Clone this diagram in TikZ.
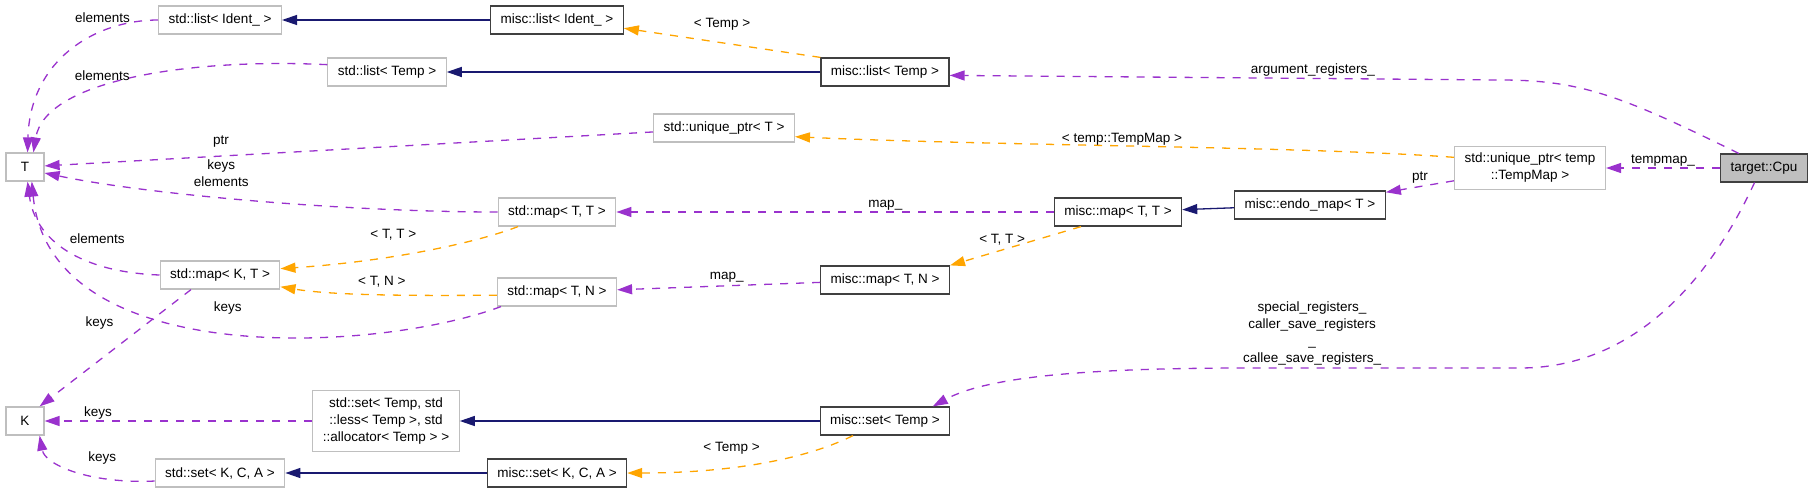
\documentclass[tikz,border=0pt]{standalone}
\usepackage{fontspec}
\setmainfont{Liberation Sans}
\usetikzlibrary{positioning}
\usetikzlibrary{arrows.meta}
\definecolor{edgeuse}{HTML}{9A32CD}
\definecolor{edgetpl}{HTML}{FFA500}
\definecolor{edgeinh}{HTML}{191970}
\definecolor{boxgray}{HTML}{BFBFBF}
\definecolor{boxdark}{HTML}{404040}
\tikzset{ext node/.style={rectangle,draw=boxgray,line width=1.2pt,minimum height=28pt,minimum width=38pt,inner xsep=10pt,inner ysep=7pt,align=center} }
\tikzset{misc node/.style={ext node,draw=boxdark} }
\tikzset{main node/.style={misc node,fill=boxgray} }
\tikzset{use edge/.style={edgeuse,line width=1.3pt,dash pattern=on 8pt off 8pt,-{Triangle[length=15pt,width=10pt]}} }
\tikzset{tpl edge/.style={use edge,edgetpl} }
\tikzset{inh edge/.style={edgeinh,line width=1.3pt,-{Triangle[length=15pt,width=10pt]}} }
\tikzset{edge label/.style={text=black,inner sep=0pt} }

\begin{document}
\begin{tikzpicture}[x=1pt,y=-1pt,font=\fontsize{13.5}{17}\selectfont]
\useasboundingbox (0,0) rectangle (1813,493);
\begin{scope}[on grid]

  \node[ext node] (T) at (25,167) {T};
  \node[ext node] (K) [below=254pt of T] {K};

  \node[ext node] (lstId) [above right=147pt and 195pt of T] {std::list< Ident\_ >};
  \node[misc node] (mlstId) [right=337pt of lstId] {misc::list< Ident\_ >};
  \node[ext node] (lstTemp) [below right=52pt and 167pt of lstId] {std::list< Temp >};
  \node[misc node] (mlstTemp) [right=498pt of lstTemp] {misc::list< Temp >};
  \node[ext node] (uptrT) [below right=108pt and 167pt of mlstId] {std::unique\_ptr< T >};

  \node[ext node] (mapTT) [below=192pt of mlstId] {std::map< T, T >};
  \node[ext node] (mapKT) [below=255pt of lstId] {std::map< K, T >};
  \node[ext node] (mapTN) [below=80pt of mapTT] {std::map< T, N >};
  \node[misc node] (mmapTT) [right=561pt of mapTT] {misc::map< T, T >};
  \node[misc node] (mmapTN) [below=208pt of mlstTemp] {misc::map< T, N >};
  \node[misc node] (endo) [above right=7pt and 192pt of mmapTT] {misc::endo\_map< T >};
  \node[ext node] (tmap) [above right=37pt and 220pt of endo] {std::unique\_ptr< temp\\::TempMap >};
  \node[main node] (cpu) [right=234pt of tmap] {target::Cpu};

  \node[ext node] (setTemp) [right=361pt of K] {std::set< Temp, std\\::less< Temp >, std\\::allocator< Temp > >};
  \node[misc node] (msetTemp) [below=141pt of mmapTN] {misc::set< Temp >};
  \node[ext node] (setKCA) [below right=52pt and 195pt of K] {std::set< K, C, A >};
  \node[misc node] (msetKCA) [right=337pt of setKCA] {misc::set< K, C, A >};
\end{scope}

    \path[every node/.style={edge label}]

    (mlstId) edge [inh edge] (lstId)
    (mlstTemp) edge [inh edge] (lstTemp)
    (endo) edge [inh edge] (mmapTT)
    (msetTemp) edge [inh edge] (setTemp)
    (msetKCA) edge [inh edge] (setKCA)

    (uptrT) edge [use edge] node[pos=0.71,above=8pt] {ptr} (T)
    (setTemp) edge [use edge] node[pos=0.8,above=1pt] {keys} (K)
    ([xshift=-29pt]mapKT.south) edge [use edge] node[pos=0.29,left=33pt] {keys} (K.45)
    (mmapTT) edge [use edge] node[pos=0.385,above=1pt] {map\_} (mapTT)
    (mmapTN) edge [use edge] node[pos=0.46,above=3pt] {map\_} (mapTN)
    (tmap) edge [use edge] node[pos=0.5,above=3pt] {ptr} (endo)
    (cpu) edge [use edge] node[pos=0.5,above=1pt] {tempmap\_} (tmap)

    (mlstTemp.north west) edge [tpl edge] node[pos=0.5,above=12pt] {< Temp >} (mlstId.-7)
    ([xshift=-37pt]mmapTT.south) edge [tpl edge] node[pos=0.33,left=12pt] {< T, T >} (mmapTN.north east)
    ;

     \draw[use edge,every node/.style={edge label}] (lstId.west) .. controls (95,20) and (30,60) .. (T.80) node[pos=0.3,above=8pt] {elements};
     \draw[use edge,every node/.style={edge label}] (lstTemp.173) .. controls (190,58) and (45,80) .. (T.60) node[pos=0.6,above=7pt] {elements};
     \draw[use edge,every node/.style={edge label}] (mapTT.west) .. controls (350,212) and (150,195) .. (T.-17) node[pos=0.57,above=10pt,align=center] {keys\\elements};
     \draw[use edge,every node/.style={edge label}] (mapKT.west) .. controls (80,272) and (35,240) .. (T.-80) node[pos=0.3,above=20pt] {elements};
     \draw[use edge,every node/.style={edge label}] ([xshift=4pt]mapTN.south west) .. controls (380,352) and (50,372) .. (T.-65) node[pos=0.5,above=18pt] {keys};
     \draw[use edge,every node/.style={edge label}] (setKCA.187) .. controls (90,484) and (45,465) .. (K.-45) node[pos=0.3,above=13pt] {keys};

     \draw[tpl edge,every node/.style={edge label}] ([xshift=-39pt]mapTT.south) .. controls (470,245) and (380,262) .. (mapKT.6) node[pos=0.6,above=15pt] {< T, T >};
     \draw[tpl edge,every node/.style={edge label}] (mapTN.183) .. controls (400,296) and (330,295) .. (mapKT.-11) node[pos=0.45,above=7pt] {< T, N >};
     \draw[tpl edge,every node/.style={edge label}] (tmap.172) .. controls (1300,146) and (1000,146) .. (uptrT.-7) node[pos=0.53,above=0pt] {< temp::TempMap >};
     \draw[tpl edge,every node/.style={edge label}] ([xshift=-32pt]msetTemp.south) .. controls (800,462) and (720,473) .. (msetKCA.east) node[pos=0.6,above=12pt] {< Temp >};

     \draw[use edge,every node/.style={edge label}] (cpu.150) .. controls (1620,95) and (1580,80) .. (1500,80) -- (mlstTemp.-3) node[pos=0.34,above=1pt] {argument\_registers\_};
     \draw[use edge,every node/.style={edge label}] (cpu.237) .. controls (1700,300) and (1620,368) .. (1520,368) -- (1250,368)
       node[pos=0.77,above=2pt,align=center] {special\_registers\_\\caller\_save\_registers\\\_\\callee\_save\_registers\_}
       .. controls (1100,368) and (990,375) .. (msetTemp.17);
\end{tikzpicture}
\end{document}
